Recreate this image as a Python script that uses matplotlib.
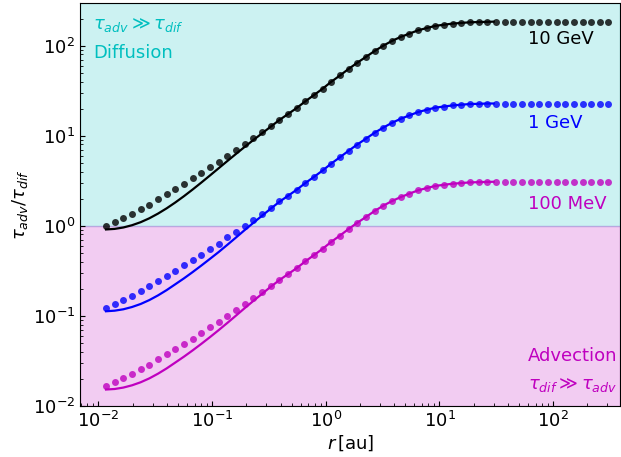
import matplotlib
matplotlib.use("Agg")
import matplotlib.pyplot as plt

# --- sample radii [au] (dots) ---
r = [0.01167, 0.01391, 0.01657, 0.01975, 0.02354, 0.02805, 0.03343, 0.03985,
     0.04749, 0.05660, 0.06745, 0.08039, 0.09581, 0.1142, 0.1361, 0.1622,
     0.1933, 0.2304, 0.2746, 0.3272, 0.3900, 0.4648, 0.5540, 0.6602,
     0.7868, 0.9378, 1.118, 1.332, 1.587, 1.892, 2.254, 2.687,
     3.202, 3.816, 4.548, 5.420, 6.460, 7.699, 9.175, 10.93,
     13.03, 15.53, 18.51, 22.06, 26.29, 31.33, 37.34, 44.50,
     53.03, 63.20, 75.33, 89.78, 107.0, 127.5, 152.0, 181.1,
     215.9, 257.3, 306.6]

# --- dotted series (tau_adv / tau_dif) ---
dots_10gev = [1.00, 1.10, 1.21, 1.36, 1.53, 1.72, 1.98, 2.23, 2.56, 2.93,
              3.35, 3.88, 4.49, 5.14, 6.00, 6.99, 8.09, 9.38, 10.9, 12.8,
              15.1, 17.4, 20.3, 24.1, 28.3, 33.3, 39.8, 46.7, 55.2, 64.7,
              75.1, 87.3, 100, 113, 125, 136, 148, 157, 166, 171,
              176, 179, 182, 183, 184, 185, 185, 185, 185, 185,
              185, 185, 185, 185, 185, 185, 185, 185, 185]
dots_1gev = [0.123, 0.136, 0.149, 0.168, 0.189, 0.212, 0.244, 0.275, 0.316, 0.362,
             0.414, 0.479, 0.554, 0.635, 0.741, 0.863, 0.999, 1.16, 1.35, 1.58,
             1.86, 2.15, 2.51, 2.98, 3.49, 4.11, 4.91, 5.77, 6.81, 7.99,
             9.27, 10.8, 12.3, 13.9, 15.4, 16.8, 18.3, 19.4, 20.5, 21.1,
             21.7, 22.1, 22.5, 22.6, 22.8, 22.8, 22.8, 22.8, 22.8, 22.8,
             22.8, 22.8, 22.8, 22.8, 22.8, 22.8, 22.8, 22.8, 22.8]
dots_100mev = [0.0167, 0.0183, 0.0202, 0.0227, 0.0255, 0.0287, 0.0330, 0.0372, 0.0427, 0.0488,
               0.0559, 0.0647, 0.0748, 0.0857, 0.100, 0.117, 0.135, 0.156, 0.182, 0.213,
               0.252, 0.290, 0.338, 0.402, 0.472, 0.555, 0.663, 0.778, 0.920, 1.08,
               1.25, 1.46, 1.67, 1.88, 2.08, 2.27, 2.47, 2.62, 2.77, 2.85,
               2.93, 2.98, 3.03, 3.05, 3.07, 3.08, 3.08, 3.08, 3.08, 3.08,
               3.08, 3.08, 3.08, 3.08, 3.08, 3.08, 3.08, 3.08, 3.08]

# --- solid series, r from 0.0117 to 30 au ---
r_line = r[:45] + [30.0]
line_10gev = [0.910, 0.923, 0.957, 1.014, 1.096, 1.211, 1.365, 1.563, 1.816, 2.133,
              2.529, 3.020, 3.622, 4.355, 5.236, 6.281, 7.516, 8.954, 10.62, 12.59,
              14.93, 17.4, 20.3, 24.1, 28.3, 33.3, 39.8, 46.7, 55.2, 64.7,
              75.1, 87.3, 100, 113, 125, 136, 148, 157, 166, 171,
              176, 179, 182, 183, 184, 185]
line_1gev = [0.1123, 0.1140, 0.1181, 0.1252, 0.1353, 0.1495, 0.1685, 0.1930, 0.2242, 0.2607,
             0.3060, 0.3616, 0.4293, 0.5108, 0.6141, 0.7405, 0.8954, 1.077, 1.291, 1.546,
             1.843, 2.15, 2.51, 2.98, 3.49, 4.11, 4.91, 5.77, 6.81, 7.99,
             9.27, 10.8, 12.3, 13.9, 15.4, 16.8, 18.3, 19.4, 20.5, 21.1,
             21.7, 22.1, 22.5, 22.6, 22.8, 22.8]
line_100mev = [0.01517, 0.01538, 0.01595, 0.01690, 0.01827, 0.02018, 0.02275, 0.02605, 0.03027, 0.0352,
               0.0413, 0.0488, 0.0580, 0.0693, 0.0833, 0.1005, 0.1215, 0.1462, 0.1752, 0.2098,
               0.2488, 0.290, 0.338, 0.402, 0.472, 0.555, 0.663, 0.778, 0.920, 1.08,
               1.25, 1.46, 1.67, 1.88, 2.08, 2.27, 2.47, 2.62, 2.77, 2.85,
               2.93, 2.98, 3.03, 3.05, 3.07, 3.08]

series = [
    ("10 GeV", "k", line_10gev, dots_10gev),
    ("1 GeV", "b", line_1gev, dots_1gev),
    ("100 MeV", "m", line_100mev, dots_100mev),
]

fig = plt.figure(figsize=(6.21, 4.57), dpi=100)
ax = fig.add_axes([0.129, 0.112, 0.870, 0.882])

# regimes
ax.axhspan(1, 300, color="c", alpha=0.2)
ax.axhspan(0.01, 1, color="m", alpha=0.2)

for name, col, yl, yd in series:
    ax.plot(r_line, yl, color=col, lw=1.6)
    ax.plot(r, yd, "o", color=col, ms=5, mew=0, alpha=0.8)

ax.set_xscale("log")
ax.set_yscale("log")
ax.set_xlim(0.0069, 390)
ax.set_ylim(0.01, 300)

ax.tick_params(which="both", direction="in", top=False, right=False, labelsize=13)
ax.set_xlabel(r"$r\,$[au]", fontsize=13, labelpad=2)
ax.set_ylabel(r"$\tau_{adv}/\tau_{dif}$", fontsize=13, labelpad=2)

# annotations
tr = ax.transAxes
fs = 13
ax.text(0.024, 0.945, r"$\tau_{adv} \gg \tau_{dif}$", color="c", fontsize=fs, va="center", transform=tr)
ax.text(0.024, 0.876, "Diffusion", color="c", fontsize=fs, va="center", transform=tr)
ax.text(0.829, 0.909, "10 GeV", color="k", fontsize=fs, va="center", transform=tr)
ax.text(0.829, 0.702, "1 GeV", color="b", fontsize=fs, va="center", transform=tr)
ax.text(0.829, 0.501, "100 MeV", color="m", fontsize=fs, va="center", transform=tr)
ax.text(0.829, 0.123, "Advection", color="m", fontsize=fs, va="center", transform=tr)
ax.text(0.829, 0.051, r"$\tau_{dif} \gg \tau_{adv}$", color="m", fontsize=fs, va="center", transform=tr)

fig.savefig("out.png", dpi=100)
